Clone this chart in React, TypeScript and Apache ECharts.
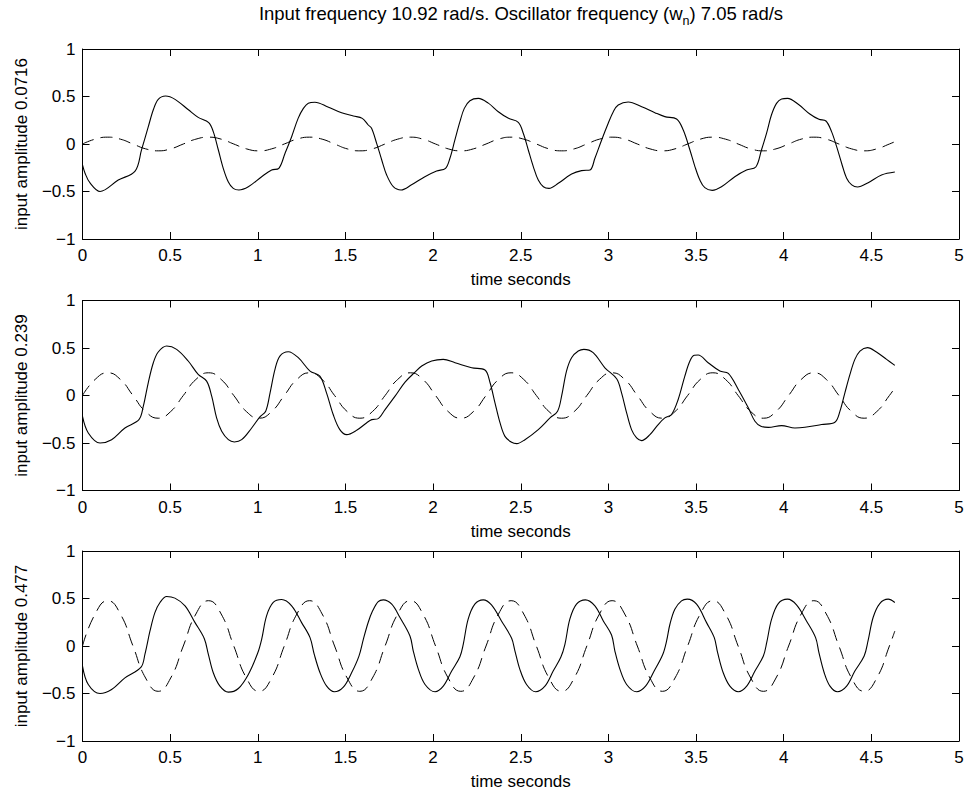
import React, { useEffect, useRef } from "react";
import * as echarts from "echarts";

// ---- data ----
const xTicks = [0, 0.5, 1, 1.5, 2, 2.5, 3, 3.5, 4, 4.5, 5];
const yTicks = [-1, -0.5, 0, 0.5, 1];
const panelNames = ["input amplitude 0.0716", "input amplitude 0.239", "input amplitude 0.477"];

// input (dashed) sampled times
const dashT = [
  0, 0.072, 0.144, 0.216, 0.288, 0.36, 0.432, 0.503,
  0.575, 0.647, 0.719, 0.791, 0.863, 0.935, 1.007, 1.079,
  1.151, 1.223, 1.295, 1.367, 1.438, 1.51, 1.582, 1.654,
  1.726, 1.798, 1.87, 1.942, 2.014, 2.086, 2.158, 2.23,
  2.302, 2.373, 2.445, 2.517, 2.589, 2.661, 2.733, 2.805,
  2.877, 2.949, 3.021, 3.093, 3.165, 3.237, 3.308, 3.38,
  3.452, 3.524, 3.596, 3.668, 3.74, 3.812, 3.884, 3.956,
  4.028, 4.1, 4.172, 4.243, 4.315, 4.387, 4.459, 4.531,
  4.603, 4.634,
];
const dash1 = [
  0, 0.051, 0.072, 0.051, 0, -0.051, -0.072, -0.051,
  0, 0.051, 0.072, 0.051, 0, -0.051, -0.072, -0.051,
  0, 0.051, 0.072, 0.051, 0, -0.051, -0.072, -0.051,
  0, 0.051, 0.072, 0.051, 0, -0.051, -0.072, -0.051,
  0, 0.051, 0.072, 0.051, 0, -0.051, -0.072, -0.051,
  0, 0.051, 0.072, 0.051, 0, -0.051, -0.072, -0.051,
  0, 0.051, 0.072, 0.051, 0, -0.051, -0.072, -0.051,
  0, 0.051, 0.072, 0.051, 0, -0.051, -0.072, -0.051,
  0, 0.024,
];
const dash2 = [
  0, 0.169, 0.239, 0.169, 0, -0.169, -0.239, -0.169,
  0, 0.169, 0.239, 0.169, 0, -0.169, -0.239, -0.169,
  0, 0.169, 0.239, 0.169, 0, -0.169, -0.239, -0.169,
  0, 0.169, 0.239, 0.169, 0, -0.169, -0.239, -0.169,
  0, 0.169, 0.239, 0.169, 0, -0.169, -0.239, -0.169,
  0, 0.169, 0.239, 0.169, 0, -0.169, -0.239, -0.169,
  0, 0.169, 0.239, 0.169, 0, -0.169, -0.239, -0.169,
  0, 0.169, 0.239, 0.169, 0, -0.169, -0.239, -0.169,
  0, 0.079,
];
const dash3 = [
  0, 0.337, 0.477, 0.337, 0, -0.337, -0.477, -0.337,
  0, 0.337, 0.477, 0.337, 0, -0.337, -0.477, -0.337,
  0, 0.337, 0.477, 0.337, 0, -0.337, -0.477, -0.337,
  0, 0.337, 0.477, 0.337, 0, -0.337, -0.477, -0.337,
  0, 0.337, 0.477, 0.337, 0, -0.337, -0.477, -0.337,
  0, 0.337, 0.477, 0.337, 0, -0.337, -0.477, -0.337,
  0, 0.337, 0.477, 0.337, 0, -0.337, -0.477, -0.337,
  0, 0.337, 0.477, 0.337, 0, -0.337, -0.477, -0.337,
  0, 0.158,
];

// oscillator (solid) responses
const solidT1 = [
  0, 0.015, 0.043, 0.1, 0.204, 0.3, 0.337, 0.375, 0.404, 0.432, 0.474, 0.528, 0.604, 0.66, 0.72,
  0.746, 0.775, 0.803, 0.832, 0.86, 0.892, 0.946, 1.022, 1.079, 1.12, 1.155, 1.193, 1.23, 1.26,
  1.288, 1.326, 1.4, 1.478, 1.545, 1.596, 1.63, 1.649, 1.678, 1.707, 1.735, 1.773, 1.817, 1.877,
  1.953, 2.02, 2.071, 2.096, 2.124, 2.153, 2.178, 2.21, 2.258, 2.315, 2.372, 2.43, 2.486, 2.515,
  2.543, 2.572, 2.6, 2.629, 2.661, 2.714, 2.79, 2.847, 2.895, 2.923, 2.961, 2.999, 3.028, 3.056,
  3.113, 3.19, 3.265, 3.322, 3.389, 3.427, 3.465, 3.494, 3.522, 3.55, 3.592, 3.645, 3.721, 3.788,
  3.841, 3.873, 3.902, 3.93, 3.959, 3.988, 4.022, 4.083, 4.149, 4.201, 4.241, 4.273, 4.302, 4.33,
  4.359, 4.388, 4.421, 4.482, 4.558, 4.634,
];
const solid1 = [
  -0.22, -0.31, -0.41, -0.5, -0.38, -0.285, -0.06, 0.18, 0.36, 0.47, 0.505, 0.47, 0.36, 0.28, 0.225,
  0.13, -0.063, -0.256, -0.4, -0.467, -0.484, -0.45, -0.344, -0.274, -0.256, -0.1, 0.077, 0.27, 0.375,
  0.43, 0.44, 0.39, 0.33, 0.295, 0.27, 0.2, 0.165, 0.007, -0.168, -0.326, -0.449, -0.484, -0.43,
  -0.344, -0.284, -0.256, -0.15, 0.04, 0.235, 0.375, 0.456, 0.48, 0.43, 0.34, 0.27, 0.228, 0.11,
  -0.063, -0.24, -0.38, -0.45, -0.467, -0.414, -0.316, -0.28, -0.274, -0.15, 0.04, 0.218, 0.34, 0.41,
  0.442, 0.393, 0.33, 0.288, 0.263, 0.147, -0.063, -0.24, -0.38, -0.46, -0.488, -0.45, -0.344, -0.274,
  -0.242, -0.063, 0.112, 0.305, 0.428, 0.474, 0.48, 0.418, 0.316, 0.26, 0.242, 0.13, -0.028, -0.2,
  -0.36, -0.43, -0.453, -0.407, -0.326, -0.295,
];
const solidT2 = [
  0, 0.033, 0.1, 0.166, 0.242, 0.322, 0.347, 0.375, 0.404, 0.432, 0.48, 0.537, 0.603, 0.66, 0.708,
  0.737, 0.765, 0.794, 0.832, 0.866, 0.908, 0.965, 1.012, 1.045, 1.07, 1.098, 1.126, 1.174, 1.231,
  1.298, 1.354, 1.392, 1.43, 1.468, 1.507, 1.564, 1.62, 1.65, 1.684, 1.726, 1.783, 1.84, 1.897,
  1.935, 1.992, 2.058, 2.125, 2.22, 2.296, 2.325, 2.353, 2.382, 2.41, 2.448, 2.477, 2.524, 2.6,
  2.667, 2.71, 2.733, 2.761, 2.79, 2.828, 2.86, 2.913, 2.98, 3.047, 3.075, 3.104, 3.132, 3.161,
  3.189, 3.237, 3.284, 3.322, 3.36, 3.398, 3.436, 3.465, 3.49, 3.512, 3.569, 3.636, 3.684, 3.741,
  3.798, 3.836, 3.87, 3.912, 3.988, 4.064, 4.121, 4.216, 4.292, 4.321, 4.349, 4.378, 4.406, 4.435,
  4.478, 4.529, 4.587, 4.634,
];
const solid2 = [
  -0.22, -0.394, -0.5, -0.465, -0.342, -0.254, -0.113, 0.134, 0.345, 0.458, 0.521, 0.486, 0.363, 0.222, 0.151,
  -0.007, -0.236, -0.377, -0.465, -0.489, -0.465, -0.342, -0.225, -0.165, 0.028, 0.275, 0.415, 0.461, 0.398,
  0.257, 0.204, 0.028, -0.2, -0.359, -0.412, -0.366, -0.289, -0.254, -0.246, -0.148, -0.007, 0.141, 0.246,
  0.31, 0.363, 0.38, 0.345, 0.292, 0.268, 0.134, -0.077, -0.289, -0.43, -0.493, -0.507, -0.465, -0.359,
  -0.236, -0.165, -0.007, 0.257, 0.398, 0.468, 0.486, 0.451, 0.292, 0.176, 0.028, -0.183, -0.359, -0.447,
  -0.475, -0.412, -0.306, -0.236, -0.2, -0.042, 0.204, 0.363, 0.423, 0.426, 0.345, 0.257, 0.232, 0.063,
  -0.13, -0.271, -0.324, -0.335, -0.317, -0.342, -0.335, -0.306, -0.282, -0.165, 0.028, 0.222, 0.38, 0.468,
  0.504, 0.458, 0.38, 0.317,
];
const solidT3 = [
  0, 0.033, 0.1, 0.166, 0.242, 0.334, 0.356, 0.385, 0.413, 0.442, 0.48, 0.527, 0.585, 0.642, 0.695,
  0.718, 0.746, 0.784, 0.832, 0.889, 0.946, 0.999, 1.022, 1.05, 1.088, 1.136, 1.193, 1.25, 1.298,
  1.322, 1.355, 1.393, 1.436, 1.488, 1.535, 1.577, 1.602, 1.63, 1.655, 1.687, 1.716, 1.764, 1.811,
  1.868, 1.887, 1.916, 1.954, 2.011, 2.058, 2.106, 2.153, 2.172, 2.2, 2.238, 2.286, 2.333, 2.39,
  2.448, 2.467, 2.495, 2.533, 2.585, 2.638, 2.685, 2.729, 2.752, 2.78, 2.818, 2.869, 2.923, 2.971,
  3.018, 3.037, 3.066, 3.104, 3.161, 3.212, 3.261, 3.31, 3.332, 3.351, 3.379, 3.417, 3.45, 3.503,
  3.56, 3.604, 3.623, 3.655, 3.693, 3.741, 3.789, 3.836, 3.884, 3.903, 3.931, 3.969, 4.022, 4.073,
  4.13, 4.182, 4.201, 4.231, 4.264, 4.307, 4.359, 4.406, 4.459, 4.481, 4.51, 4.548, 4.596, 4.634,
];
const solid3 = [
  -0.211, -0.405, -0.5, -0.458, -0.335, -0.222, -0.088, 0.158, 0.352, 0.458, 0.521, 0.504, 0.423, 0.246, 0.077,
  -0.088, -0.282, -0.423, -0.486, -0.447, -0.299, -0.077, 0.07, 0.317, 0.458, 0.489, 0.423, 0.246, 0.088,
  -0.088, -0.282, -0.423, -0.482, -0.433, -0.282, -0.106, 0.07, 0.25, 0.37, 0.468, 0.486, 0.44, 0.3,
  0.106, -0.053, -0.246, -0.405, -0.482, -0.423, -0.264, -0.113, 0.018, 0.282, 0.44, 0.486, 0.433, 0.264,
  0.081, -0.053, -0.246, -0.405, -0.482, -0.423, -0.264, -0.116, 0.018, 0.282, 0.44, 0.486, 0.423, 0.264,
  0.116, -0.053, -0.246, -0.405, -0.482, -0.423, -0.264, -0.09, 0.053, 0.229, 0.387, 0.475, 0.493, 0.44,
  0.246, 0.088, -0.07, -0.282, -0.423, -0.482, -0.423, -0.264, -0.106, 0.035, 0.282, 0.447, 0.493, 0.433,
  0.264, 0.088, -0.07, -0.282, -0.423, -0.482, -0.423, -0.264, -0.106, 0.053, 0.3, 0.447, 0.493, 0.458,
];

const FONT = "'Liberation Sans', Arial, Helvetica, sans-serif";
const FS = 17;

const zip = (t: number[], v: number[]) => t.map((x, i) => [x, v[i]]);

export default function App() {
  const ref = useRef<HTMLDivElement>(null);
  useEffect(() => {
    if (!ref.current) return;
    const chart = echarts.init(ref.current, undefined, { renderer: "svg" });
    const tops = [49, 300.5, 551];
    const height = 190;
    const grids = tops.map((t) => ({ left: 82.5, right: 10, top: t, height }));
    const fmtY = (v: number) => (v < 0 ? "\u2212" + Math.abs(v) : String(v));
    const xAxes: any[] = [];
    const yAxes: any[] = [];
    tops.forEach((_, i) => {
      const common = {
        gridIndex: i,
        type: "value",
        min: xTicks[0],
        max: xTicks[xTicks.length - 1],
        interval: 0.5,
        axisLine: { show: true, onZero: false, lineStyle: { color: "#000", width: 1 } },
        axisTick: { show: true, inside: true, length: 7, lineStyle: { color: "#000", width: 1 } },
        splitLine: { show: false },
      };
      xAxes.push({
        ...common,
        position: "bottom",
        name: "time seconds",
        nameLocation: "middle",
        nameGap: 32,
        nameTextStyle: { color: "#000", fontSize: FS, fontFamily: FONT },
        axisLabel: { color: "#000", fontSize: FS, fontFamily: FONT, margin: 8, formatter: (v: number) => String(v) },
      });
      xAxes.push({ ...common, position: "top", axisLabel: { show: false } });
      const ycommon = {
        gridIndex: i,
        type: "value",
        min: yTicks[0],
        max: yTicks[yTicks.length - 1],
        interval: 0.5,
        axisLine: { show: true, onZero: false, lineStyle: { color: "#000", width: 1 } },
        axisTick: { show: true, inside: true, length: 7, lineStyle: { color: "#000", width: 1 } },
        splitLine: { show: false },
      };
      yAxes.push({
        ...ycommon,
        position: "left",
        name: panelNames[i],
        nameLocation: "middle",
        nameGap: 53,
        nameTextStyle: { color: "#000", fontSize: FS, fontFamily: FONT },
        axisLabel: { color: "#000", fontSize: FS, fontFamily: FONT, margin: 7, formatter: fmtY },
      });
      yAxes.push({ ...ycommon, position: "right", axisLabel: { show: false } });
    });
    const solids = [zip(solidT1, solid1), zip(solidT2, solid2), zip(solidT3, solid3)];
    const dashes = [zip(dashT, dash1), zip(dashT, dash2), zip(dashT, dash3)];
    const series: any[] = [];
    tops.forEach((_, i) => {
      series.push({
        type: "line",
        xAxisIndex: i * 2,
        yAxisIndex: i * 2,
        data: dashes[i],
        showSymbol: false,
        smooth: 0.5,
        lineStyle: { color: "#000", width: 1, type: [12, 7] },
      });
      series.push({
        type: "line",
        xAxisIndex: i * 2,
        yAxisIndex: i * 2,
        data: solids[i],
        showSymbol: false,
        smooth: 0.35,
        lineStyle: { color: "#000", width: 1.1 },
      });
    });
    chart.setOption({
      animation: false,
      backgroundColor: "#fff",
      title: {
        text: "{a|Input frequency 10.92 rad/s. Oscillator frequency (w}{s|n}{a|) 7.05 rad/s}",
        left: 521,
        top: 0,
        textAlign: "center",
        padding: 0,
        textStyle: {
          fontWeight: "normal",
          rich: {
            a: { fontSize: 18.5, fontFamily: FONT, color: "#000", fontWeight: "normal" },
            s: { fontSize: 12.5, fontFamily: FONT, color: "#000", fontWeight: "normal", padding: [14, 0, 0, 0] },
          },
        },
      },
      grid: grids,
      xAxis: xAxes,
      yAxis: yAxes,
      series,
    });
    return () => chart.dispose();
  }, []);
  return <div ref={ref} style={{ width: 969, height: 791, position: "absolute", left: 0, top: 0 }} />;
}
